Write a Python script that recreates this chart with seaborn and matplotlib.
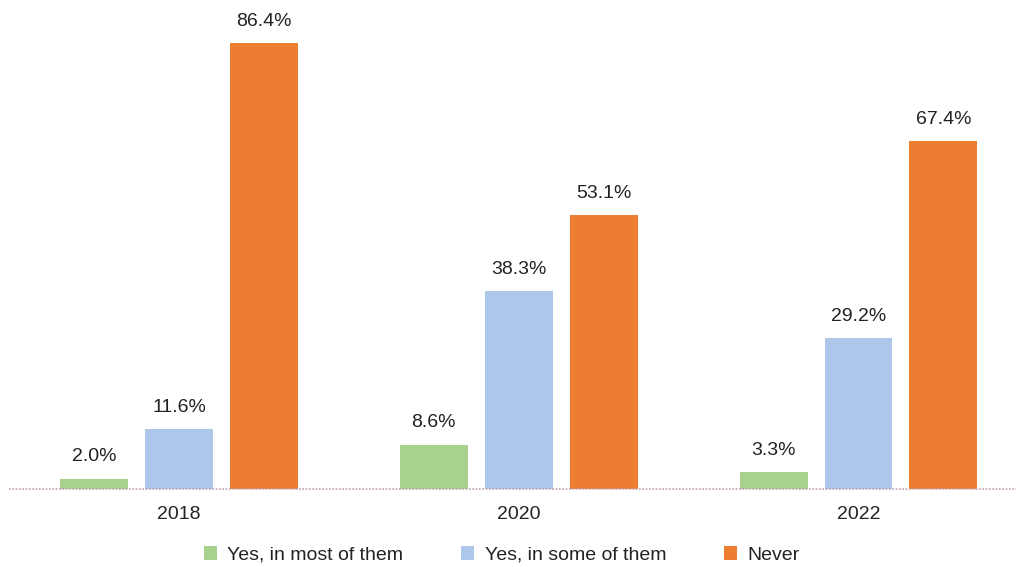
import matplotlib
matplotlib.use("Agg")
import matplotlib.pyplot as plt
import seaborn as sns
import pandas as pd

years = ["2018", "2020", "2022"]
series = ["Yes, in most of them", "Yes, in some of them", "Never"]
most = [2.0, 8.6, 3.3]
some = [11.6, 38.3, 29.2]
never = [86.4, 53.1, 67.4]
colors = ["#a9d18e", "#adc6e9", "#ed7d31"]

rows = []
for name, vals in zip(series, [most, some, never]):
    for y, v in zip(years, vals):
        rows.append({"year": y, "series": name, "value": v})
df = pd.DataFrame(rows)

sns.set_theme(style="white")
plt.rcParams["font.family"] = ["Liberation Sans", "DejaVu Sans"]

W, H = 1016, 567
fig = plt.figure(figsize=(W / 100, H / 100), dpi=100)
ax = fig.add_axes([9 / W, 78 / H, (W - 9) / W, 489 / H])

sns.barplot(data=df, x="year", y="value", hue="series", hue_order=series,
            order=years, palette=colors, width=0.75, gap=0.2, ax=ax,
            errorbar=None, saturation=1, linewidth=0)

ax.set_xlim(-0.5004, 2.4636)
ax.set_ylim(0, 94.7)
for s in ax.spines.values():
    s.set_visible(False)
ax.axhline(0, color="#c0a0b0", linestyle=(0, (1, 1)), linewidth=1.2, clip_on=False)
ax.set_yticks([])
ax.set_xlabel("")
ax.set_ylabel("")
ax.tick_params(axis="x", length=0, labelsize=14, pad=12, colors="#222222")

for cont in ax.containers:
    ax.bar_label(cont, labels=[f"{v:.1f}%" for v in cont.datavalues],
                 padding=9.5, fontsize=14, color="#222222")

ax.legend(loc="center", bbox_to_anchor=(0.494, 12 / H), bbox_transform=fig.transFigure,
          ncol=3, frameon=False, fontsize=14, handlelength=0.67, handleheight=0.67,
          handletextpad=0.52, columnspacing=3.0, labelcolor="#222222")

fig.savefig("out.png", dpi=100)
